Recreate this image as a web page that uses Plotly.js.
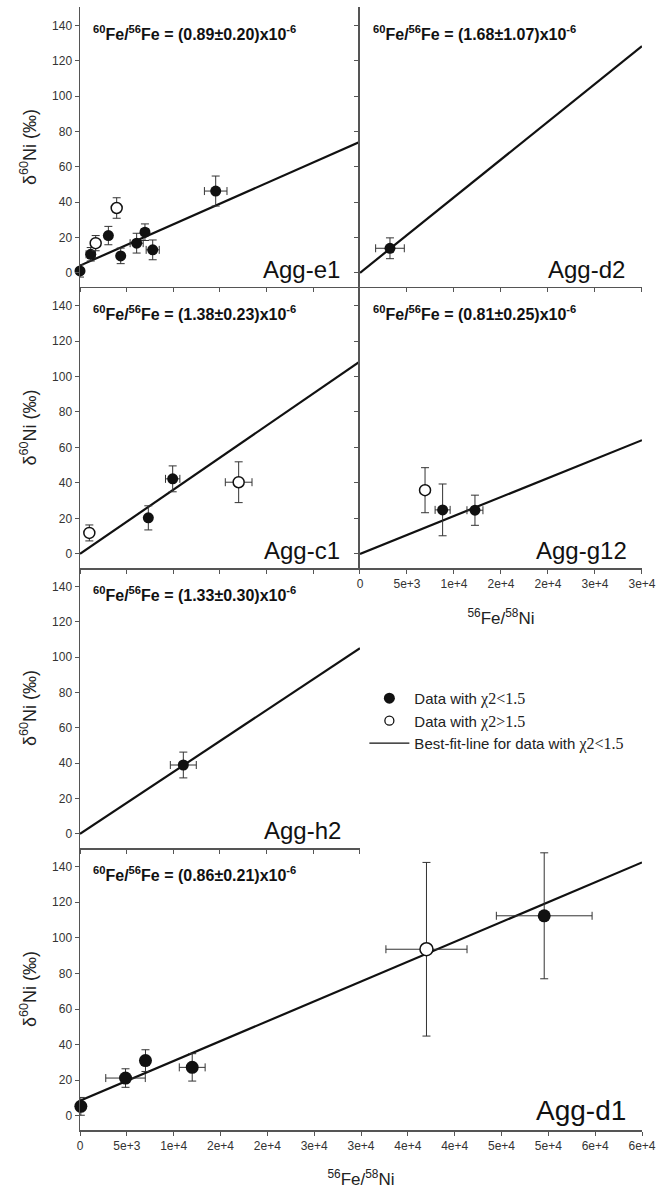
<!DOCTYPE html>
<html><head><meta charset="utf-8">
<script src="https://cdn.plot.ly/plotly-3.0.1.min.js"></script>
<style>html,body{margin:0;padding:0;background:#fff}</style>
</head><body><div id="chart" style="width:666px;height:1189px"></div>
<script>
// ---------------- DATA ----------------
const panelNames = ['Agg-e1', 'Agg-d2', 'Agg-c1', 'Agg-g12', 'Agg-h2', 'Agg-d1'];
const ratioValues = ['(0.89±0.20)', '(1.68±1.07)', '(1.38±0.23)', '(0.81±0.25)', '(1.33±0.30)', '(0.86±0.21)'];

// Agg-e1
const e1FilledX = [0, 1150, 3040, 4360, 6070, 6960, 7790, 14540];
const e1FilledY = [1.1, 10.5, 21.1, 9.6, 16.8, 23.0, 13.0, 46.3];
const e1FilledXErr = [200, 500, 300, 300, 700, 400, 700, 1210];
const e1FilledYErr = [3.5, 3.8, 5.2, 4.4, 5.6, 4.7, 5.6, 8.5];
const e1OpenX = [1680, 3930];
const e1OpenY = [16.8, 36.7];
const e1OpenXErr = [450, 200];
const e1OpenYErr = [4.3, 5.8];
const e1FitX = [0, 30000];
const e1FitY = [4.1, 74.2];

// Agg-d2
const d2FilledX = [3190];
const d2FilledY = [13.9];
const d2FilledXErr = [1525];
const d2FilledYErr = [5.9];
const d2OpenX = [];
const d2OpenY = [];
const d2OpenXErr = [];
const d2OpenYErr = [];
const d2FitX = [0, 30000];
const d2FitY = [0, 128.3];

// Agg-c1
const c1FilledX = [7320, 9930];
const c1FilledY = [20.3, 42.3];
const c1FilledXErr = [300, 770];
const c1FilledYErr = [6.8, 7.3];
const c1OpenX = [1000, 17000];
const c1OpenY = [11.8, 40.4];
const c1OpenXErr = [200, 1430];
const c1OpenYErr = [4.5, 11.5];
const c1FitX = [0, 30000];
const c1FitY = [0, 108.5];

// Agg-g12
const g12FilledX = [8790, 12230];
const g12FilledY = [24.8, 24.6];
const g12FilledXErr = [800, 850];
const g12FilledYErr = [14.6, 8.5];
const g12OpenX = [6920];
const g12OpenY = [35.9];
const g12OpenXErr = [300];
const g12OpenYErr = [12.7];
const g12FitX = [0, 30000];
const g12FitY = [0, 64.1];

// Agg-h2
const h2FilledX = [11070];
const h2FilledY = [39.0];
const h2FilledXErr = [1390];
const h2FilledYErr = [7.3];
const h2OpenX = [];
const h2OpenY = [];
const h2OpenXErr = [];
const h2OpenYErr = [];
const h2FitX = [0, 30000];
const h2FitY = [0, 105.1];

// Agg-d1
const d1FilledX = [90, 4860, 6990, 11980, 49560];
const d1FilledY = [5.3, 21.2, 31.0, 27.2, 112.4];
const d1FilledXErr = [200, 2110, 300, 1380, 5110];
const d1FilledYErr = [5.0, 5.2, 6.1, 7.7, 35.4];
const d1OpenX = [36990];
const d1OpenY = [93.6];
const d1OpenXErr = [4330];
const d1OpenYErr = [48.8];
const d1FitX = [0, 60000];
const d1FitY = [8.5, 142.4];

// ticks
const xTickVals30 = [0, 5000, 10000, 15000, 20000, 25000, 30000];
const xTickText30 = ['0', '5e+3', '1e+4', '2e+4', '2e+4', '3e+4', '3e+4'];
const xTickVals60 = [0, 5000, 10000, 15000, 20000, 25000, 30000, 35000, 40000, 45000, 50000, 55000, 60000];
const xTickText60 = ['0', '5e+3', '1e+4', '2e+4', '2e+4', '3e+4', '3e+4', '4e+4', '4e+4', '5e+4', '5e+4', '6e+4', '6e+4'];
const yTickVals = [0, 20, 40, 60, 80, 100, 120, 140];

const legendNames = [
  'Data with <span style="font-family:Liberation Serif, Times New Roman, serif;font-size:16px">χ2&lt;1.5</span>',
  'Data with <span style="font-family:Liberation Serif, Times New Roman, serif;font-size:16px">χ2&gt;1.5</span>',
  'Best-fit-line for data with <span style="font-family:Liberation Serif, Times New Roman, serif;font-size:16px">χ2&lt;1.5</span>'
];

// ---------------- STRUCTURE ----------------
const panelData = [
  [e1FilledX, e1FilledY, e1FilledXErr, e1FilledYErr, e1OpenX, e1OpenY, e1OpenXErr, e1OpenYErr, e1FitX, e1FitY],
  [d2FilledX, d2FilledY, d2FilledXErr, d2FilledYErr, d2OpenX, d2OpenY, d2OpenXErr, d2OpenYErr, d2FitX, d2FitY],
  [c1FilledX, c1FilledY, c1FilledXErr, c1FilledYErr, c1OpenX, c1OpenY, c1OpenXErr, c1OpenYErr, c1FitX, c1FitY],
  [g12FilledX, g12FilledY, g12FilledXErr, g12FilledYErr, g12OpenX, g12OpenY, g12OpenXErr, g12OpenYErr, g12FitX, g12FitY],
  [h2FilledX, h2FilledY, h2FilledXErr, h2FilledYErr, h2OpenX, h2OpenY, h2OpenXErr, h2OpenYErr, h2FitX, h2FitY],
  [d1FilledX, d1FilledY, d1FilledXErr, d1FilledYErr, d1OpenX, d1OpenY, d1OpenXErr, d1OpenYErr, d1FitX, d1FitY]
];

const L = [0, 0.4982], R = [0.4982, 1], F = [0, 1];
const geom = [
  {xd: L, yd: [0.7507, 1], wide: false, yLab: true, xLab: false, xTitle: false, agg: 24, ms: 11, aggShift: -18},
  {xd: R, yd: [0.7507, 1], wide: false, yLab: false, xLab: false, xTitle: false, agg: 24, ms: 11, aggShift: -15},
  {xd: L, yd: [0.5004, 0.7507], wide: false, yLab: true, xLab: false, xTitle: false, agg: 24, ms: 11, aggShift: -18},
  {xd: R, yd: [0.5004, 0.7507], wide: false, yLab: false, xLab: true, xTitle: true, agg: 24, ms: 11, aggShift: -13},
  {xd: L, yd: [0.2511, 0.5004], wide: false, yLab: true, xLab: false, xTitle: false, agg: 24, ms: 11, aggShift: -17},
  {xd: F, yd: [0, 0.2511], wide: true, yLab: true, xLab: true, xTitle: true, agg: 28, ms: 13, aggShift: -14}
];

const yRange = [-8, 150.5];
const lineCol = '#555';
const axBase = {
  showline: true, linecolor: lineCol, linewidth: 1.5,
  ticks: 'outside', ticklen: 4, tickwidth: 1, tickcolor: lineCol,
  showgrid: false, zeroline: false, fixedrange: true,
  tickfont: {size: 12, color: '#333', family: 'Liberation Sans, Arial, sans-serif'}
};
const errStyle = {color: '#333', thickness: 1, width: 4};

const traces = [];
const layout = {
  width: 666, height: 1189,
  margin: {l: 80, r: 24, t: 7, b: 59},
  paper_bgcolor: '#fff', plot_bgcolor: 'rgba(0,0,0,0)',
  font: {family: 'Liberation Sans, Arial, sans-serif', color: '#222'},
  showlegend: true,
  legend: {
    x: 0.506, xanchor: 'left', y: 0.399, yanchor: 'top',
    bgcolor: 'rgba(0,0,0,0)', font: {size: 15, color: '#222'},
    itemwidth: 40, tracegroupgap: 0
  },
  annotations: []
};

geom.forEach((g, i) => {
  const k = i + 1, id = k === 1 ? '' : String(k), ko = String(i + 7);
  const [fx, fy, fxe, fye, ox, oy, oxe, oye, lx, ly] = panelData[i];
  const xv = g.wide ? xTickVals60 : xTickVals30;
  const xt = g.wide ? xTickText60 : xTickText30;
  const xmax = xv[xv.length - 1];

  const xa = Object.assign({}, axBase, {
    domain: g.xd, anchor: 'y' + id, range: [0, xmax],
    tickmode: 'array', tickvals: xv, ticktext: xt, showticklabels: g.xLab
  });
  if (g.xTitle) xa.title = {text: '<sup>56</sup>Fe/<sup>58</sup>Ni', font: {size: 17, color: '#222'}, standoff: 22};
  layout['xaxis' + id] = xa;

  const ya = Object.assign({}, axBase, {
    domain: g.yd, anchor: 'x' + id, range: yRange,
    tickmode: 'array', tickvals: yTickVals, showticklabels: g.yLab
  });
  if (g.yLab) ya.title = {text: 'δ<sup>60</sup>Ni (‰)', font: {size: 18, color: '#222'}, standoff: 11};
  layout['yaxis' + id] = ya;

  layout['xaxis' + ko] = Object.assign({}, axBase, {
    overlaying: 'x' + id, side: 'top', anchor: 'y' + id, range: [0, xmax], ticks: 'inside',
    tickmode: 'array', tickvals: xv, showticklabels: false
  });
  layout['yaxis' + ko] = Object.assign({}, axBase, {
    overlaying: 'y' + id, side: 'right', anchor: 'x' + id, range: yRange, ticks: 'inside',
    tickmode: 'array', tickvals: yTickVals, showticklabels: false
  });

  traces.push({
    type: 'scatter', mode: 'lines', x: lx, y: ly, xaxis: 'x' + id, yaxis: 'y' + id,
    line: {color: '#111', width: 2.2}, showlegend: false, hoverinfo: 'skip'
  });
  traces.push({
    type: 'scatter', mode: 'markers', x: fx, y: fy, xaxis: 'x' + id, yaxis: 'y' + id,
    error_x: Object.assign({type: 'data', array: fxe, visible: true}, errStyle),
    error_y: Object.assign({type: 'data', array: fye, visible: true}, errStyle),
    marker: {color: '#111', size: g.ms, line: {width: 0}}, cliponaxis: false, showlegend: false
  });
  if (ox.length) {
    traces.push({
      type: 'scatter', mode: 'markers', x: ox, y: oy, xaxis: 'x' + id, yaxis: 'y' + id,
      error_x: Object.assign({type: 'data', array: oxe, visible: true}, errStyle),
      error_y: Object.assign({type: 'data', array: oye, visible: true}, errStyle),
      marker: {color: '#fff', size: g.ms, line: {color: '#111', width: 1.5}}, cliponaxis: false, showlegend: false
    });
  }

  layout.annotations.push({
    xref: 'x' + id + ' domain', yref: 'y' + id + ' domain', x: 0, y: 1,
    xanchor: 'left', yanchor: 'middle', xshift: 11, yshift: -26, showarrow: false,
    text: '<b><sup>60</sup>Fe/<sup>56</sup>Fe = ' + ratioValues[i] + 'x10<sup>-6</sup></b>',
    font: {size: 16, color: '#111'}
  });
  layout.annotations.push({
    xref: 'x' + id + ' domain', yref: 'y' + id + ' domain', x: 1, y: 0,
    xanchor: 'right', yanchor: 'bottom', xshift: g.aggShift, yshift: 2, showarrow: false,
    text: panelNames[i], font: {size: g.agg, color: '#111'}
  });
});

// legend-only traces
traces.push({type: 'scatter', mode: 'markers', x: [null], y: [null], name: legendNames[0],
  marker: {color: '#111', size: 11}, showlegend: true, hoverinfo: 'skip'});
traces.push({type: 'scatter', mode: 'markers', x: [null], y: [null], name: legendNames[1],
  marker: {color: '#fff', size: 9, line: {color: '#111', width: 1.3}}, showlegend: true, hoverinfo: 'skip'});
traces.push({type: 'scatter', mode: 'lines', x: [null], y: [null], name: legendNames[2],
  line: {color: '#111', width: 1.2}, showlegend: true, hoverinfo: 'skip'});

Plotly.newPlot('chart', traces, layout, {displayModeBar: false, staticPlot: true});
</script></body></html>
